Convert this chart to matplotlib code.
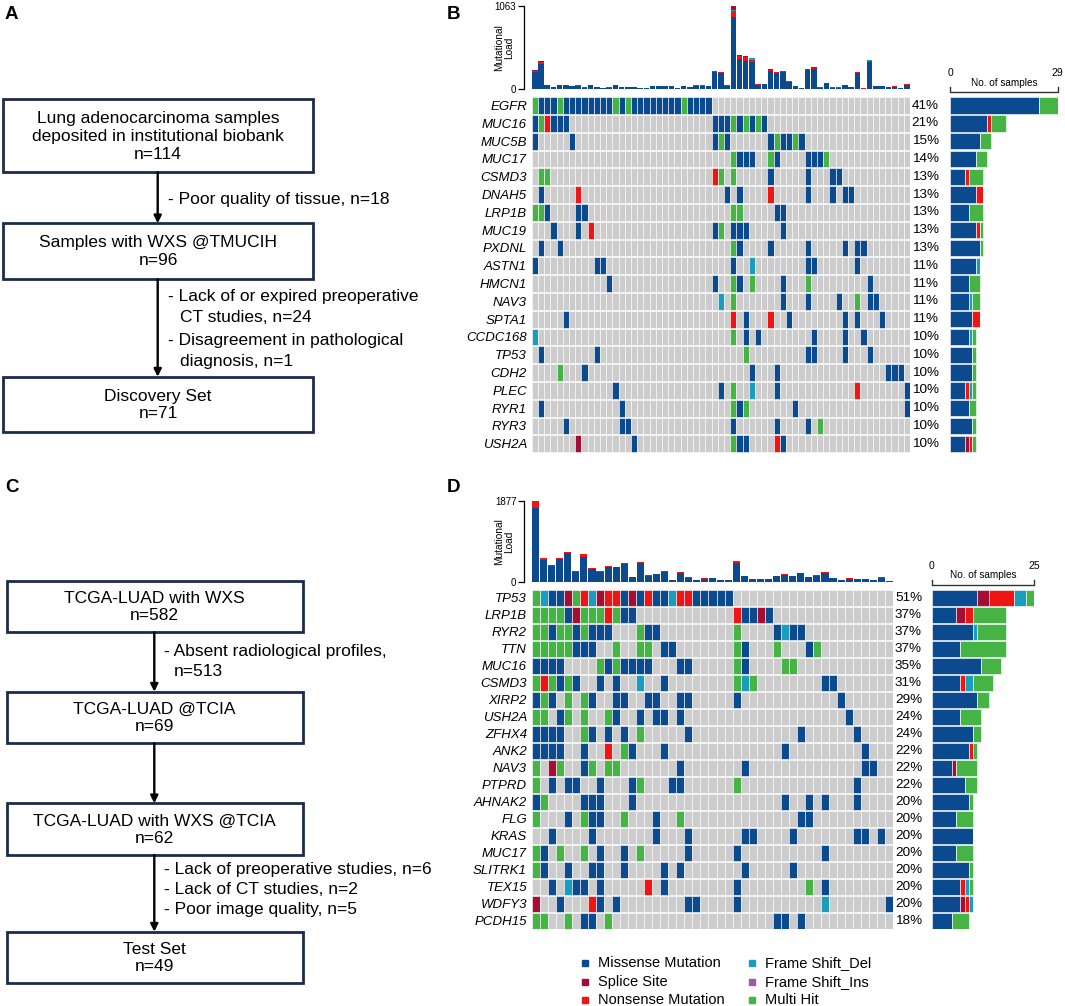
import numpy as np
import matplotlib.pyplot as plt
from matplotlib.patches import Rectangle

plt.rcParams['font.family'] = ['Liberation Sans', 'DejaVu Sans']

W, H = 1065, 1006

# variant classes (legend / stacking order)
vc_names = ["Missense", "Splice", "Nonsense", "FS_Del", "FS_Ins", "Multi"]
vc_labels = ["Missense Mutation", "Splice Site", "Nonsense Mutation",
             "Frame Shift_Del", "Frame Shift_Ins", "Multi Hit"]
vc_colors = ["#0B4A8E", "#A50D33", "#F01515", "#1A9DBD", "#9B5BA5", "#45B445"]
cell_gray = "#CCCCCC"
box_edge = "#1D2B4A"

# ---------------- panel B : discovery set ----------------
b_total = 71
b_ncol = 61
b_genes = ["EGFR", "MUC16", "MUC5B", "MUC17", "CSMD3", "DNAH5", "LRP1B", "MUC19",
           "PXDNL", "ASTN1", "HMCN1", "NAV3", "SPTA1", "CCDC168", "TP53", "CDH2",
           "PLEC", "RYR1", "RYR3", "USH2A"]
b_muts = {
    "EGFR": {"Missense": [1, 2, 3, 5, 6, 7, 8, 9, 10, 11, 12, 14, 16, 17, 18, 19, 20, 21, 22, 23, 25, 26, 27, 28],
             "Multi": [0, 4, 13, 15, 24]},
    "MUC16": {"Missense": [0, 3, 4, 5, 29, 30, 31, 33, 35, 37], "Nonsense": [2], "Multi": [1, 32, 34, 36]},
    "MUC5B": {"Missense": [0, 6, 29, 31, 38, 40, 41, 43], "Multi": [30, 39, 42]},
    "MUC17": {"Missense": [33, 34, 35, 39, 44, 45, 46], "Multi": [32, 38, 47]},
    "CSMD3": {"Missense": [38, 44, 48, 49], "Nonsense": [29], "Multi": [1, 2, 30, 32]},
    "DNAH5": {"Missense": [1, 31, 33, 44, 48, 50, 51], "Nonsense": [7, 38]},
    "LRP1B": {"Missense": [2, 7, 8, 39, 40], "Multi": [0, 1, 32, 33]},
    "MUC19": {"Missense": [3, 7, 29, 32, 33, 34, 40], "Nonsense": [9], "Multi": [30]},
    "PXDNL": {"Missense": [1, 4, 33, 38, 44, 50, 52, 53], "Multi": [32]},
    "ASTN1": {"Missense": [0, 10, 11, 32, 44, 45, 52], "FS_Del": [35]},
    "HMCN1": {"Missense": [12, 29, 33, 40, 54], "Multi": [32, 35, 44]},
    "NAV3": {"Missense": [40, 44, 49, 54, 55], "FS_Del": [30], "Multi": [32, 52]},
    "SPTA1": {"Missense": [5, 34, 41, 50, 52, 56], "Nonsense": [32, 38]},
    "CCDC168": {"Missense": [34, 36, 45, 50, 53], "FS_Del": [0], "Multi": [32]},
    "TP53": {"Missense": [1, 10, 44, 45, 50, 54], "Multi": [34]},
    "CDH2": {"Missense": [8, 35, 39, 57, 58, 59], "Multi": [4]},
    "PLEC": {"Missense": [13, 30, 39, 60], "Nonsense": [52], "FS_Del": [35], "Multi": [32]},
    "RYR1": {"Missense": [1, 14, 33, 42, 60], "Multi": [32, 34]},
    "RYR3": {"Missense": [5, 14, 15, 32, 39, 44], "Multi": [46]},
    "USH2A": {"Missense": [16, 33, 34, 40], "Splice": [7], "Nonsense": [39], "Multi": [32]},
}
b_tmb_missense = [222, 318, 47, 23, 47, 47, 35, 43, 18, 47,
                  23, 14, 18, 47, 23, 23, 23, 14, 14, 35,
                  35, 35, 35, 14, 35, 23, 43, 43, 35, 222,
                  205, 43, 925, 383, 360, 344, 55, 63, 235, 204,
                  220, 94, 39, 10, 240, 262, 18, 76, 18, 18,
                  50, 27, 200, 6, 345, 39, 35, 23, 31, 8, 55]
b_tmb_nonsense = [10, 28, 4, 3, 4, 4, 3, 4, 3, 4,
                  3, 3, 3, 4, 3, 3, 3, 3, 3, 3,
                  3, 3, 3, 3, 3, 3, 4, 4, 3, 8,
                  8, 4, 70, 34, 45, 30, 5, 5, 10, 12,
                  10, 8, 4, 3, 10, 12, 3, 5, 3, 3,
                  5, 3, 12, 3, 14, 4, 3, 3, 3, 5, 5]
b_tmb_fsdel = {32: 16, 35: 17, 54: 15}
b_tmb_splice = {0: 6, 1: 15, 29: 4, 30: 4, 32: 52, 33: 17, 34: 16, 38: 6,
                39: 5, 40: 4, 44: 5, 45: 7, 52: 5}
b_tmb_max = 1063

# ---------------- panel D : test set ----------------
d_total = 49
d_ncol = 45
d_genes = ["TP53", "LRP1B", "RYR2", "TTN", "MUC16", "CSMD3", "XIRP2", "USH2A",
           "ZFHX4", "ANK2", "NAV3", "PTPRD", "AHNAK2", "FLG", "KRAS", "MUC17",
           "SLITRK1", "TEX15", "WDFY3", "PCDH15"]
d_muts = {
    "TP53": {"Missense": [2, 3, 11, 13, 15, 16, 20, 21, 22, 23, 24], "Splice": [4, 8, 12],
             "Nonsense": [6, 9, 10, 14, 18, 19], "FS_Del": [1, 7, 17], "Multi": [0, 5]},
    "LRP1B": {"Missense": [4, 11, 12, 26, 27, 29], "Splice": [5, 28], "Nonsense": [9, 25],
              "Multi": [0, 1, 2, 3, 6, 7, 8, 10]},
    "RYR2": {"Missense": [2, 5, 7, 8, 9, 14, 15, 30, 32, 33], "FS_Del": [31],
             "Multi": [0, 1, 3, 4, 6, 13, 25]},
    "TTN": {"Missense": [5, 6, 7, 16, 17, 26, 34], "Multi": [0, 1, 2, 3, 4, 10, 13, 14, 25, 30, 35]},
    "MUC16": {"Missense": [0, 1, 2, 3, 9, 11, 12, 13, 14, 18, 19, 26], "Multi": [8, 10, 25, 31, 32]},
    "CSMD3": {"Missense": [3, 5, 8, 10, 16, 36, 37], "Nonsense": [1], "FS_Del": [13, 26],
              "Multi": [0, 2, 4, 25, 27]},
    "XIRP2": {"Missense": [0, 2, 7, 10, 11, 14, 15, 18, 19, 25, 38], "Multi": [1, 4, 6]},
    "USH2A": {"Missense": [3, 10, 13, 15, 16, 18, 39], "Multi": [0, 1, 4, 6, 9]},
    "ZFHX4": {"Missense": [0, 1, 2, 3, 7, 9, 11, 19, 33, 40], "Multi": [6, 13]},
    "ANK2": {"Missense": [0, 1, 2, 3, 6, 12, 16, 31, 41], "Nonsense": [9], "Multi": [11]},
    "NAV3": {"Missense": [6, 18, 26, 41, 42], "Splice": [2], "Multi": [0, 3, 7, 9, 10]},
    "PTPRD": {"Missense": [2, 4, 5, 8, 12, 17, 18, 40], "Multi": [0, 13, 25]},
    "AHNAK2": {"Missense": [0, 6, 7, 8, 12, 31, 34, 36, 40], "Multi": [1]},
    "FLG": {"Missense": [4, 7, 8, 15, 33, 34], "Multi": [0, 6, 11, 18]},
    "KRAS": {"Missense": [2, 7, 15, 19, 26, 27, 32, 40, 41, 43]},
    "MUC17": {"Missense": [1, 8, 11, 19, 25, 36], "Multi": [0, 3, 6, 13]},
    "SLITRK1": {"Missense": [1, 4, 7, 8, 11, 16, 18, 26, 32], "Multi": [0]},
    "TEX15": {"Missense": [2, 5, 6, 8, 16, 25, 36], "Nonsense": [14], "FS_Del": [4], "Multi": [34]},
    "WDFY3": {"Missense": [3, 8, 10, 19, 20, 25, 44], "Splice": [0], "Nonsense": [7], "FS_Del": [36]},
    "PCDH15": {"Missense": [6, 7, 30, 31, 33], "Multi": [0, 1, 4, 9]},
}
d_tmb_missense = [1706, 503, 358, 519, 658, 231, 581, 290, 233, 337,
                  334, 410, 99, 436, 137, 174, 226, 42, 213, 91,
                  42, 73, 85, 42, 28, 441, 130, 65, 57, 65,
                  122, 156, 122, 195, 99, 137, 197, 85, 42, 73,
                  65, 65, 44, 86, 8]
d_tmb_nonsense = [171, 40, 30, 40, 40, 25, 55, 20, 15, 20,
                  15, 25, 10, 30, 10, 12, 15, 5, 20, 10,
                  5, 5, 8, 5, 3, 40, 10, 5, 5, 5,
                  10, 15, 10, 15, 10, 10, 20, 8, 5, 5,
                  5, 5, 3, 15, 8]
d_tmb_fsdel = {}
d_tmb_splice = {}
d_tmb_max = 1877

color_of = dict(zip(vc_names, vc_colors))


def px_axes(fig, left, top, right, bottom):
    return fig.add_axes([left / W, 1 - bottom / H, (right - left) / W, (bottom - top) / H])


def draw_tmb(ax, missense, nonsense, fsdel, splice, ymax):
    n = len(missense)
    x = np.arange(n)
    stacks = [(missense, color_of["Missense"]),
              (nonsense, color_of["Nonsense"]),
              ([fsdel.get(i, 0) for i in range(n)], color_of["FS_Del"]),
              ([splice.get(i, 0) for i in range(n)], color_of["Splice"])]
    bottom = np.zeros(n)
    for vals, col in stacks:
        vals = np.asarray(vals, dtype=float)
        ax.bar(x, vals, bottom=bottom, width=0.88, color=col, linewidth=0)
        bottom += vals
    ax.set_xlim(-0.5, n - 0.5)
    ax.set_ylim(0, ymax)
    for s in ["top", "right", "bottom"]:
        ax.spines[s].set_visible(False)
    ax.spines["left"].set_position(("outward", 5.5))
    ax.spines["left"].set_linewidth(0.9)
    ax.set_xticks([])
    ax.set_yticks([0, ymax])
    ax.set_yticklabels(["0", str(ymax)], fontsize=7)
    ax.tick_params(axis="y", length=4, pad=1.5, width=0.9)
    ax.annotate("Mutational\nLoad", xy=(0, 0.5), xycoords="axes fraction",
                xytext=(-19.5, 0), textcoords="offset points", rotation=90,
                ha="center", va="center", fontsize=7.3, linespacing=1.0)
    ax.patch.set_alpha(0)


def draw_matrix(ax, genes, muts, ncol, total):
    x = np.arange(ncol)
    for i, g in enumerate(genes):
        cols = [cell_gray] * ncol
        for vc, idx in muts[g].items():
            for k in idx:
                cols[k] = color_of[vc]
        ax.bar(x, 0.94, bottom=i - 0.47, width=1.0, color=cols,
               edgecolor="white", linewidth=0.4)
        n_mut = sum(len(v) for v in muts[g].values())
        ax.annotate(f"{round(100 * n_mut / total)}%", xy=(1, i),
                    xycoords=("axes fraction", "data"), xytext=(1.2, 0),
                    textcoords="offset points", ha="left", va="center", fontsize=9.7)
    ax.set_xlim(-0.5, ncol - 0.5)
    ax.set_ylim(len(genes) - 0.5, -0.5)
    ax.set_xticks([])
    ax.set_yticks(np.arange(len(genes)))
    ax.set_yticklabels(genes, fontstyle="italic", fontsize=9.5)
    ax.tick_params(axis="y", length=0, pad=3.4)
    for s in ax.spines.values():
        s.set_visible(False)


def draw_counts(ax, genes, muts, top_px, height_px):
    y = np.arange(len(genes))
    left = np.zeros(len(genes))
    for vc in vc_names:
        vals = np.array([len(muts[g].get(vc, [])) for g in genes], dtype=float)
        ax.barh(y, vals, left=left, height=0.92, color=color_of[vc],
                edgecolor="white", linewidth=0.4)
        left += vals
    xmax = int(left.max())
    ax.set_xlim(0, xmax)
    ax.set_ylim(len(genes) - 0.5, -0.5)
    ax.axis("off")
    tr = ax.get_xaxis_transform()
    yb = 1 + 4.5 / height_px
    yt = 1 + 9.8 / height_px
    ax.plot([0, 0, xmax, xmax], [yt, yb, yb, yt], transform=tr, color="#333333",
            lw=1.0, clip_on=False)
    ax.text(xmax / 2, 1 + 13.8 / height_px, "No. of samples", transform=tr,
            ha="center", va="center", fontsize=7.2)
    ax.text(0, 1 + 23.6 / height_px, "0", transform=tr, ha="center", va="center", fontsize=7.5)
    ax.text(xmax, 1 + 23.6 / height_px, str(xmax), transform=tr, ha="center",
            va="center", fontsize=7.5)


fig = plt.figure(figsize=(W / 100, H / 100), dpi=100)

# overlay for flowcharts, panel letters and legend (pixel coordinates)
ov = fig.add_axes([0, 0, 1, 1])
ov.set_xlim(0, W)
ov.set_ylim(H, 0)
ov.axis("off")


def box(x0, y0, x1, y1, text, lsp):
    ov.add_patch(Rectangle((x0, y0), x1 - x0, y1 - y0, fill=False,
                           edgecolor=box_edge, lw=2.0))
    ov.text((x0 + x1) / 2, (y0 + y1) / 2 + 0.5, text, ha="center", va="center",
            fontsize=12.5, linespacing=lsp)


def arrow(x, y0, y1):
    ov.annotate("", xy=(x, y1), xytext=(x, y0),
                arrowprops=dict(arrowstyle="-|>", color="black", lw=1.7,
                                mutation_scale=11, shrinkA=0, shrinkB=0))


def side(x, y, text):
    ov.text(x, y, text, ha="left", va="center", fontsize=12.5)


for lab, lx, ly in [("A", 5, 14), ("B", 447, 14), ("C", 5, 488), ("D", 447, 488)]:
    ov.text(lx, ly, lab, fontsize=13.5, fontweight="bold", ha="left", va="center")

# panel A
box(2.7, 99.3, 313.3, 172.3, "Lung adenocarcinoma samples\ndeposited in institutional biobank\nn=114", 1.25)
box(2.7, 223.3, 313.3, 279.3, "Samples with WXS @TMUCIH\nn=96", 1.25)
box(2.7, 376.7, 313.3, 432.3, "Discovery Set\nn=71", 1.25)
arrow(157.7, 172.3, 223.3)
arrow(157.7, 279.3, 376.7)
side(168, 199.3, "- Poor quality of tissue, n=18")
side(168, 296.7, "- Lack of or expired preoperative")
side(180, 317.3, "CT studies, n=24")
side(168, 341, "- Disagreement in pathological")
side(180, 361.7, "diagnosis, n=1")

# panel C
box(6.7, 581, 302.7, 632.3, "TCGA-LUAD with WXS\nn=582", 1.15)
box(6.7, 691.7, 302.7, 743.3, "TCGA-LUAD @TCIA\nn=69", 1.15)
box(6.7, 803.3, 302.7, 855, "TCGA-LUAD with WXS @TCIA\nn=62", 1.15)
box(6.7, 931.7, 302.7, 983.3, "Test Set\nn=49", 1.15)
arrow(154.3, 632.3, 691.7)
arrow(154.3, 743.3, 803.3)
arrow(154.3, 855, 931.7)
side(164, 651.7, "- Absent radiological profiles,")
side(174, 671.7, "n=513")
side(164, 869.3, "- Lack of preoperative studies, n=6")
side(164, 889.3, "- Lack of CT studies, n=2")
side(164, 909.3, "- Poor image quality, n=5")

# legend
for j, (lab, col) in enumerate(zip(vc_labels, vc_colors)):
    lx = 584.7 + (j // 3) * 167
    ly = 963.3 + (j % 3) * 18.4
    ov.plot([lx], [ly], marker="s", markersize=4.3, color=col, linestyle="none")
    ov.text(lx + 13.5, ly, lab, ha="left", va="center", fontsize=10.5)

# panel B
ax_bt = px_axes(fig, 531.7, 6, 910, 89)
draw_tmb(ax_bt, b_tmb_missense, b_tmb_nonsense, b_tmb_fsdel, b_tmb_splice, b_tmb_max)
ax_bm = px_axes(fig, 531.7, 96.7, 910, 452.7)
draw_matrix(ax_bm, b_genes, b_muts, b_ncol, b_total)
ax_bc = px_axes(fig, 950, 96.7, 1057.7, 452.7)
draw_counts(ax_bc, b_genes, b_muts, 96.7, 452.7 - 96.7)

# panel D
ax_dt = px_axes(fig, 531.7, 501, 893.3, 581.7)
draw_tmb(ax_dt, d_tmb_missense, d_tmb_nonsense, d_tmb_fsdel, d_tmb_splice, d_tmb_max)
ax_dm = px_axes(fig, 531.7, 589.3, 893.3, 929.3)
draw_matrix(ax_dm, d_genes, d_muts, d_ncol, d_total)
ax_dc = px_axes(fig, 931.7, 589.3, 1034.3, 929.3)
draw_counts(ax_dc, d_genes, d_muts, 589.3, 929.3 - 589.3)

fig.savefig("out.png", dpi=100)
